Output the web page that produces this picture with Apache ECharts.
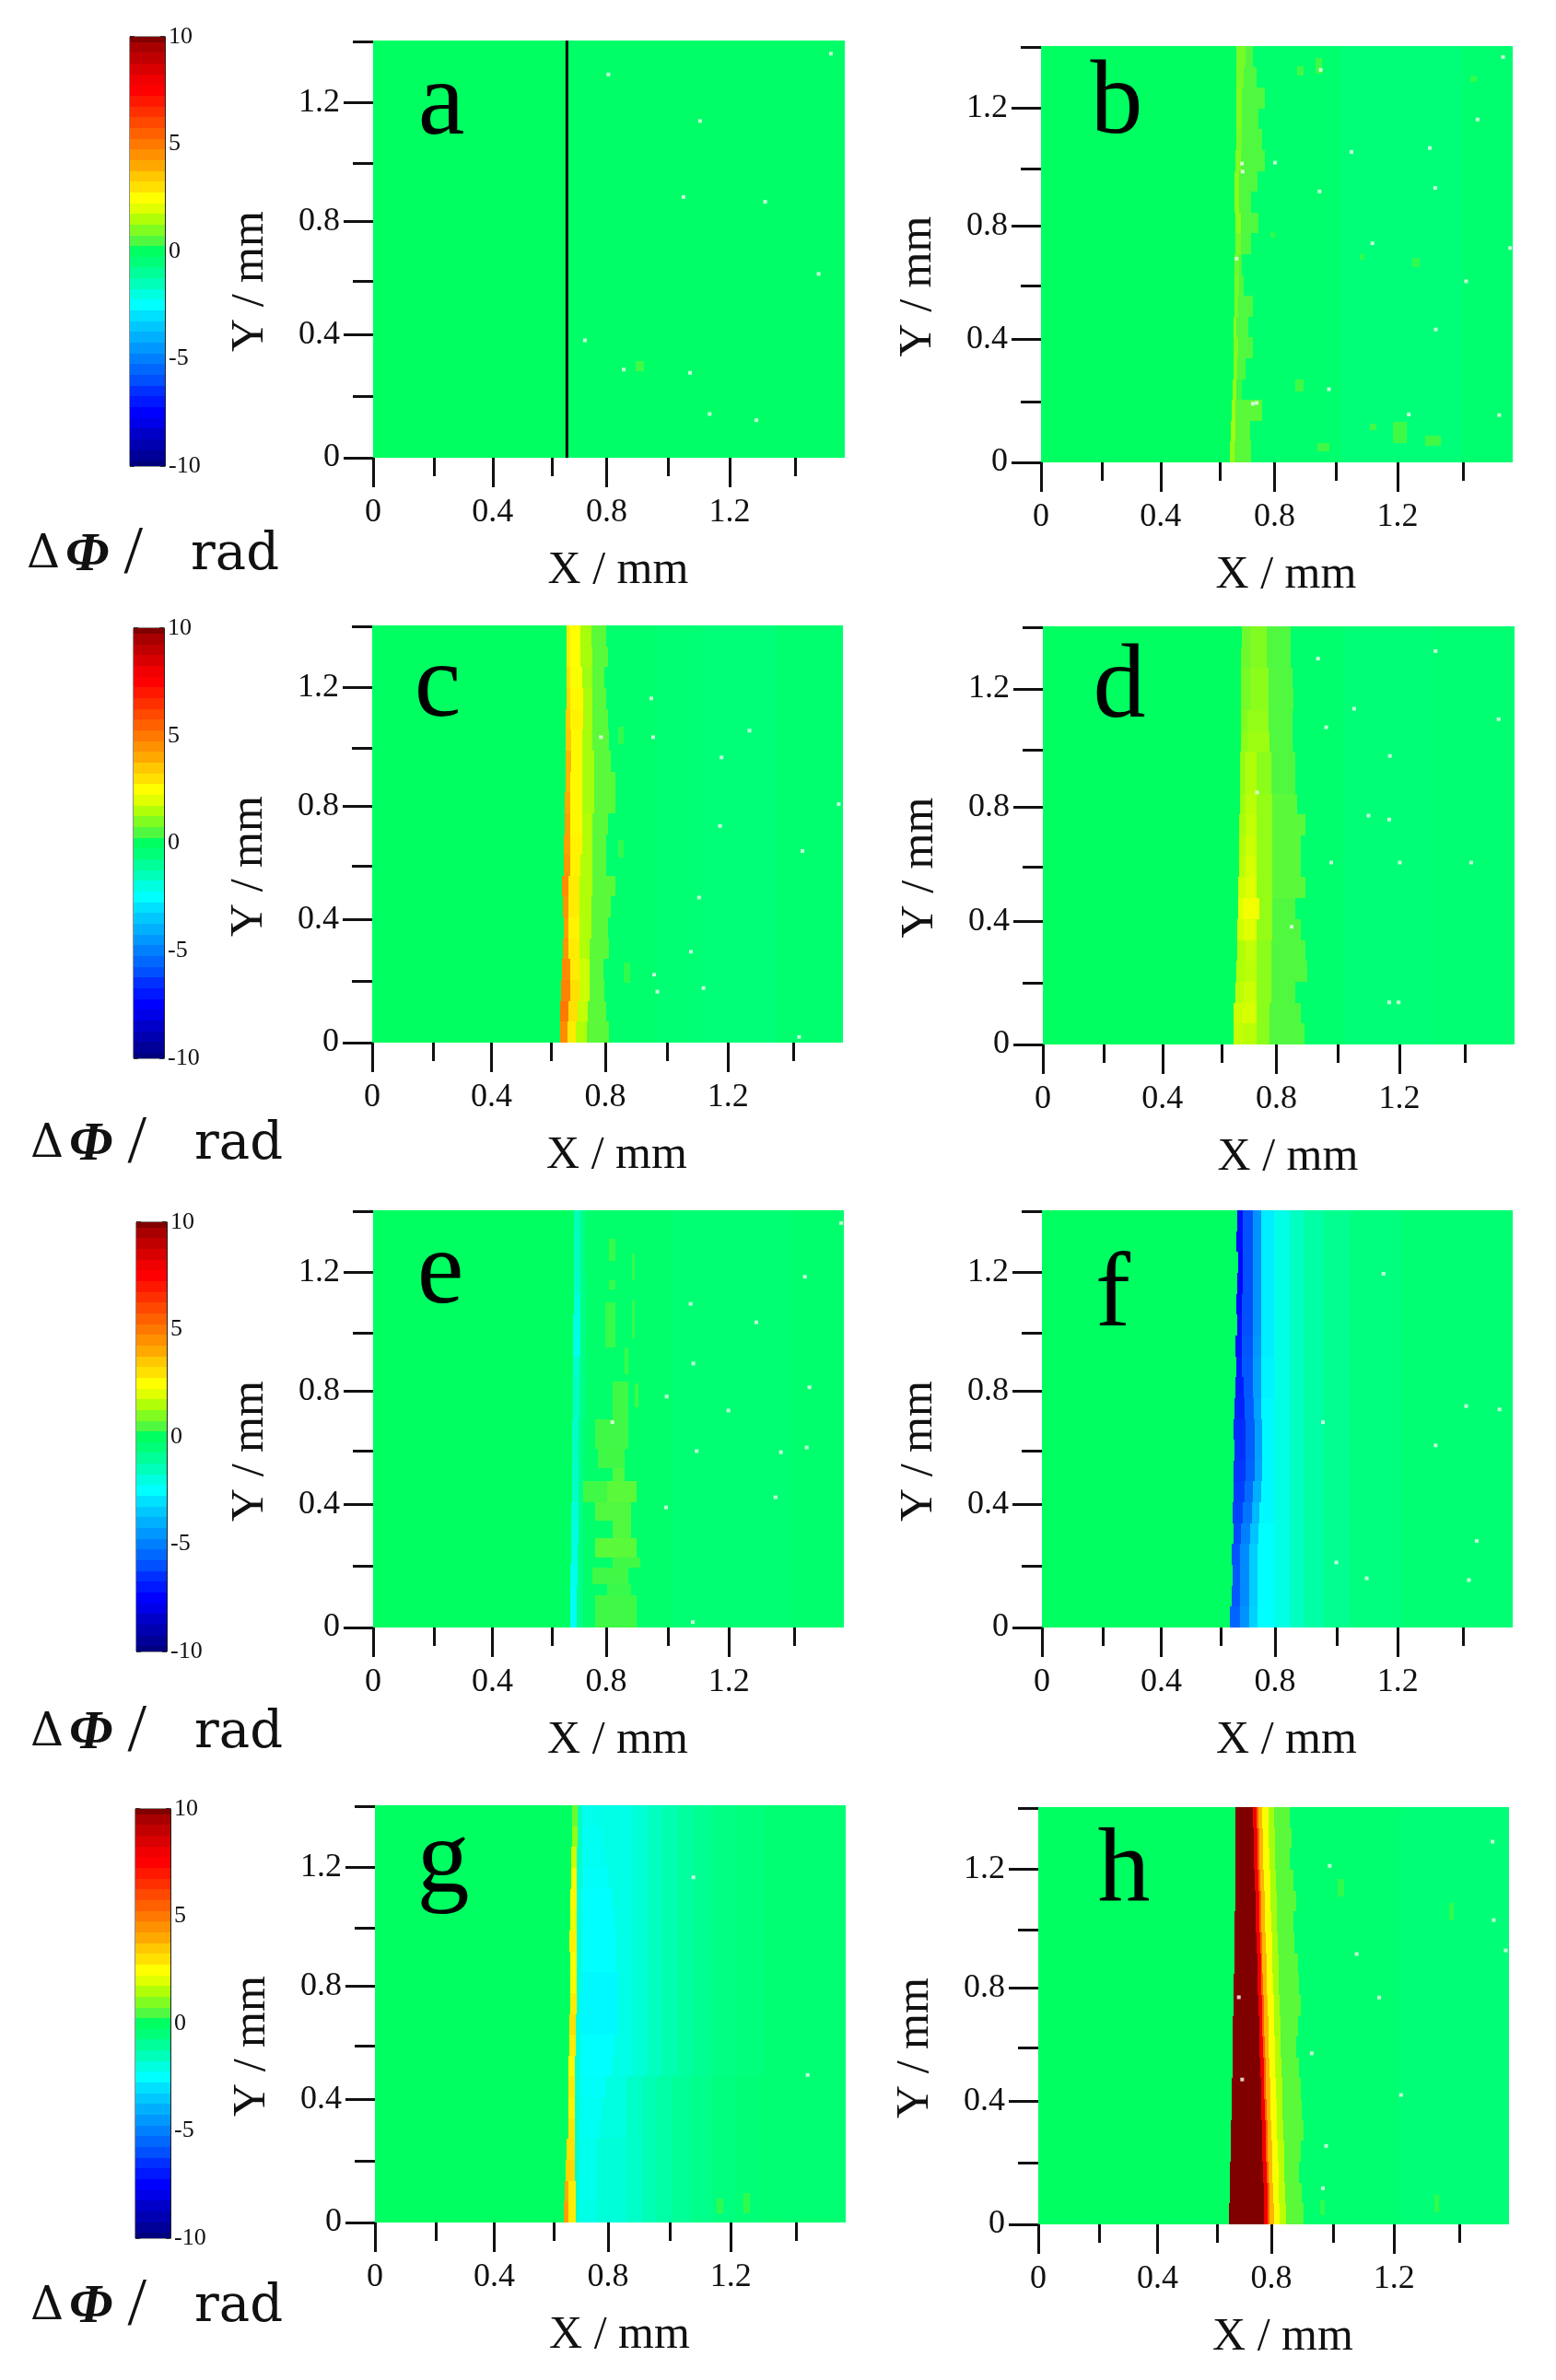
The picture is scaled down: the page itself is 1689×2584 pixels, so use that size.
<!DOCTYPE html>
<html>
<head>
<meta charset="utf-8">
<style>
  html, body { margin: 0; background: #fff; }
  #chart { width: 1689px; height: 2584px; }
</style>
<script src="https://cdn.jsdelivr.net/npm/echarts@6/dist/echarts.min.js"></script>
</head>
<body>
<div id="chart"></div>
<script>
  // axis ticks, the hand-labelled axes of the figure are slightly uneven
  const X_MAX = 1.57
  const Y_MAX = 1.4
  const tickLabels = ['0', '0.4', '0.8', '1.2']
  const xMajorTicks = [0, 0.398, 0.777, 1.187]
  const xMinorTicks = [0.2025, 0.596, 0.983, 1.405]
  const yMajorTicks = [0, 0.413, 0.794, 1.191]
  const yMinorTicks = [0.205, 0.593, 0.987, 1.395]
  const barTicks = [-10, -5, 0, 5, 10]

  // colour scale, -10 to 10 rad, one stop per 0.5
  const jetStops = [
    '#00007f', '#000098', '#0000b0', '#0000c8', '#0000e8', '#0000ff', '#0018ff', '#0030ff', '#0050ff', '#0068ff',
    '#0080ff', '#0098ff', '#00b0ff', '#00c8ff', '#00e0ff', '#00ffff', '#00ffe0', '#00ffb8', '#00ff98', '#00ff78',
    '#00ff60',
    '#50f840', '#80fc20', '#b0ff08', '#e0ff00', '#ffff00', '#ffe000', '#ffc800', '#ffa800', '#ff9000', '#ff7800',
    '#ff6000', '#ff4800', '#ff3000', '#ff1800', '#ff0000', '#f00000', '#d80000', '#c00000', '#a80000', '#800000',
  ]
  const barLevels = [
    -10, -9.5, -9, -8.5, -8, -7.5, -7, -6.5, -6, -5.5, -5, -4.5, -4, -3.5, -3, -2.5, -2, -1.5, -1, -0.5,
    0, 0.5, 1, 1.5, 2, 2.5, 3, 3.5, 4, 4.5, 5, 5.5, 6, 6.5, 7, 7.5, 8, 8.5, 9, 9.5, 10,
  ]

  // each row runs top to bottom of the map: x where a run starts, then its value (rad)
  const panelARows = [[0.645, -0.15]]
  const panelAPatches = [[0.875, 0.9, 0.29, 0.325, 0.4]]
  const panelASpecks = [[0.783, 1.286], [1.088, 1.13], [1.524, 1.356], [1.033, 0.875], [1.305, 0.859], [1.483, 0.617], [0.705, 0.394], [0.834, 0.296], [1.055, 0.285], [1.12, 0.147], [1.276, 0.126]]

  const panelBTail = [1.0, -0.5, 1.4, -0.3]
  const panelBRows = [
    [0.65, 0.9, 0.68, 0.5, 0.705, -0.25],
    [0.65, 0.9, 0.675, 0.5, 0.718, -0.25],
    [0.65, 1.0, 0.668, 0.5, 0.745, -0.25],
    [0.65, 1.0, 0.668, 0.5, 0.725, -0.25],
    [0.65, 0.9, 0.67, 0.5, 0.735, -0.25],
    [0.648, 1.0, 0.665, 0.5, 0.745, -0.25],
    [0.645, 1.1, 0.66, 0.5, 0.72, -0.25],
    [0.645, 1.1, 0.66, 0.5, 0.7, -0.25],
    [0.648, 1.1, 0.665, 0.5, 0.725, -0.25],
    [0.648, 0.9, 0.665, 0.5, 0.7, -0.25],
    [0.645, 0.8, 0.66, 0.5, 0.67, -0.25],
    [0.645, 0.9, 0.66, 0.5, 0.675, -0.25],
    [0.643, 0.9, 0.655, 0.5, 0.705, -0.25],
    [0.64, 1.1, 0.65, 0.5, 0.69, -0.25],
    [0.64, 1.0, 0.655, 0.5, 0.705, -0.25],
    [0.64, 1.0, 0.653, 0.5, 0.68, -0.25],
    [0.638, 1.2, 0.65, 0.4, 0.67, -0.25],
    [0.635, 1.3, 0.648, 0.6, 0.735, -0.25],
    [0.632, 1.3, 0.648, 0.6, 0.695, -0.25],
    [0.63, 1.2, 0.645, 0.6, 0.7, -0.25],
  ].map((r) => r.concat(panelBTail))
  // small patches: x from, x to, y from, y to, value
  const panelBPatches = [
    [0.853, 0.873, 1.3, 1.333, 0.4], [0.914, 0.934, 1.307, 1.36, 0.4], [0.846, 0.873, 0.24, 0.279, 0.4],
    [1.17, 1.217, 0.064, 0.135, 0.4], [1.278, 1.332, 0.057, 0.09, 0.4], [0.92, 0.961, 0.038, 0.064, 0.4],
    [1.096, 1.116, 0.109, 0.129, 0.4], [1.237, 1.26, 0.656, 0.689, 0.3], [1.062, 1.076, 0.68, 0.7, 0.3],
    [1.43, 1.45, 1.28, 1.3, 0.3], [0.765, 0.78, 0.755, 0.775, 0.3],
  ]
  const panelBSpecks = [[0.931, 1.32], [1.538, 1.363], [1.453, 1.153], [1.294, 1.057], [1.033, 1.044], [0.779, 1.008], [0.669, 1.005], [0.671, 0.978], [0.927, 0.911], [1.312, 0.923], [1.103, 0.737], [1.561, 0.721], [0.651, 0.685], [1.415, 0.609], [1.314, 0.447], [0.958, 0.246], [0.705, 0.197], [0.718, 0.2], [1.224, 0.161], [1.525, 0.159]]

  const panelCTail = [0.95, -0.4, 1.1, -0.5, 1.35, -0.3]
  const panelCRows = [
    [0.647, 2.8, 0.66, 2.5, 0.695, 1.4, 0.73, 0.6, 0.78, -0.25],
    [0.647, 2.8, 0.66, 2.5, 0.695, 1.4, 0.735, 0.6, 0.785, -0.25],
    [0.648, 3.0, 0.66, 2.4, 0.7, 1.3, 0.735, 0.6, 0.775, -0.25],
    [0.648, 3.2, 0.662, 2.6, 0.705, 1.4, 0.735, 0.6, 0.78, -0.25],
    [0.646, 3.4, 0.662, 2.7, 0.705, 1.4, 0.735, 0.6, 0.785, -0.25],
    [0.646, 3.5, 0.664, 2.6, 0.7, 1.4, 0.735, 0.6, 0.79, -0.25],
    [0.644, 3.8, 0.664, 2.6, 0.7, 1.4, 0.74, 0.6, 0.795, -0.25],
    [0.644, 3.8, 0.662, 2.6, 0.7, 1.4, 0.74, 0.6, 0.81, -0.25],
    [0.642, 4.0, 0.662, 2.6, 0.7, 1.4, 0.74, 0.6, 0.81, -0.25],
    [0.642, 4.2, 0.66, 2.6, 0.7, 1.5, 0.735, 0.6, 0.785, -0.25],
    [0.64, 4.2, 0.66, 2.7, 0.7, 1.5, 0.735, 0.6, 0.78, -0.25],
    [0.638, 4.4, 0.66, 2.7, 0.695, 1.5, 0.735, 0.6, 0.78, -0.25],
    [0.634, 4.6, 0.655, 2.8, 0.69, 1.5, 0.735, 0.6, 0.81, -0.25],
    [0.636, 4.4, 0.655, 2.8, 0.69, 1.5, 0.73, 0.6, 0.795, -0.25],
    [0.638, 4.2, 0.655, 2.7, 0.69, 1.5, 0.73, 0.6, 0.785, -0.25],
    [0.636, 4.4, 0.655, 2.8, 0.69, 1.5, 0.725, 0.6, 0.79, -0.25],
    [0.634, 4.6, 0.66, 2.8, 0.69, 1.8, 0.725, 0.6, 0.77, -0.25],
    [0.63, 4.8, 0.66, 3.0, 0.69, 1.8, 0.725, 0.6, 0.775, -0.25],
    [0.628, 5.0, 0.655, 3.0, 0.685, 1.7, 0.72, 0.6, 0.78, -0.25],
    [0.626, 4.6, 0.65, 2.8, 0.68, 1.5, 0.715, 0.6, 0.79, -0.25],
  ].map((r) => r.concat(panelCTail))
  const panelCPatches = [[0.82, 0.84, 1.0, 1.06, 0.3], [0.82, 0.84, 0.62, 0.68, 0.3], [0.84, 0.86, 0.2, 0.27, 0.3]]
  const panelCSpecks = [[0.931, 1.155], [1.258, 1.047], [0.937, 1.025], [0.763, 1.025], [1.165, 0.957], [1.556, 0.8], [1.16, 0.727], [1.435, 0.643], [1.09, 0.487], [1.063, 0.305], [0.94, 0.228], [0.951, 0.171], [1.105, 0.183], [1.424, 0.019]]

  const panelDTail = [1.0, -0.45, 1.3, -0.35]
  const panelDRows = [
    [0.662, 0.8, 0.69, 1.0, 0.745, 0.5, 0.825, -0.25],
    [0.66, 0.8, 0.69, 1.0, 0.745, 0.5, 0.825, -0.25],
    [0.66, 0.9, 0.69, 1.1, 0.75, 0.5, 0.83, -0.25],
    [0.66, 0.9, 0.69, 1.1, 0.75, 0.5, 0.835, -0.25],
    [0.658, 1.0, 0.68, 1.2, 0.75, 0.5, 0.83, -0.25],
    [0.658, 1.1, 0.68, 1.3, 0.755, 0.5, 0.83, -0.25],
    [0.656, 1.2, 0.675, 1.5, 0.71, 1.1, 0.76, 0.5, 0.84, -0.25],
    [0.656, 1.2, 0.675, 1.5, 0.71, 1.1, 0.76, 0.5, 0.84, -0.25],
    [0.655, 1.3, 0.675, 1.6, 0.71, 1.2, 0.765, 0.6, 0.845, -0.25],
    [0.653, 1.4, 0.675, 1.7, 0.71, 1.2, 0.765, 0.6, 0.875, -0.25],
    [0.653, 1.5, 0.675, 1.8, 0.71, 1.2, 0.765, 0.6, 0.86, -0.25],
    [0.652, 1.6, 0.675, 1.9, 0.71, 1.2, 0.765, 0.6, 0.86, -0.25],
    [0.65, 1.8, 0.675, 2.0, 0.71, 1.2, 0.765, 0.6, 0.875, -0.25],
    [0.65, 2.0, 0.665, 2.3, 0.72, 1.2, 0.765, 0.5, 0.84, -0.25],
    [0.648, 1.8, 0.67, 2.0, 0.71, 1.2, 0.765, 0.5, 0.86, -0.25],
    [0.646, 1.5, 0.675, 1.7, 0.71, 1.1, 0.76, 0.5, 0.875, -0.25],
    [0.644, 1.5, 0.675, 1.6, 0.71, 1.1, 0.76, 0.5, 0.88, -0.25],
    [0.64, 1.6, 0.67, 1.8, 0.71, 1.1, 0.76, 0.5, 0.84, -0.25],
    [0.636, 1.8, 0.665, 1.9, 0.71, 1.1, 0.755, 0.5, 0.86, -0.25],
    [0.634, 1.7, 0.665, 1.6, 0.71, 1.1, 0.755, 0.5, 0.87, -0.25],
  ].map((r) => r.concat(panelDTail))
  const panelDPatches = []
  const panelDSpecks = [[0.916, 1.292], [1.307, 1.317], [1.036, 1.124], [0.943, 1.062], [1.517, 1.089], [1.155, 0.966], [0.713, 0.844], [1.084, 0.766], [1.153, 0.753], [0.96, 0.609], [1.188, 0.609], [1.426, 0.609], [0.828, 0.394], [1.153, 0.141], [1.184, 0.141]]

  const panelETail = [1.0, -0.4, 1.4, -0.25]
  const panelERows = [
    [0.67, -1.5, 0.69, -0.7, 0.71, -0.2],
    [0.67, -1.6, 0.69, -0.7, 0.71, -0.2],
    [0.67, -1.6, 0.69, -0.7, 0.71, -0.2],
    [0.669, -1.7, 0.69, -0.7, 0.71, -0.2],
    [0.669, -1.9, 0.69, -0.7, 0.71, -0.2],
    [0.668, -2.0, 0.69, -0.7, 0.71, -0.2],
    [0.668, -2.1, 0.69, -0.7, 0.71, -0.2],
    [0.667, -1.8, 0.688, -0.7, 0.71, -0.2],
    [0.667, -1.7, 0.688, -0.7, 0.71, -0.2],
    [0.666, -1.7, 0.688, -0.7, 0.71, -0.2],
    [0.665, -1.7, 0.686, -0.7, 0.705, -0.2],
    [0.664, -1.6, 0.686, -0.7, 0.705, -0.2],
    [0.664, -1.7, 0.686, -0.7, 0.705, -0.2],
    [0.663, -1.7, 0.684, -0.7, 0.7, -0.2],
    [0.662, -1.9, 0.684, -0.7, 0.7, -0.2],
    [0.661, -2.0, 0.684, -0.7, 0.7, -0.2],
    [0.66, -2.1, 0.682, -0.7, 0.7, -0.2],
    [0.659, -2.2, 0.682, -0.8, 0.7, -0.2],
    [0.658, -2.4, 0.68, -0.8, 0.7, -0.2],
    [0.657, -2.4, 0.68, -0.8, 0.7, -0.2],
  ].map((r) => r.concat(panelETail))
  const panelEPatches = [
    [0.785, 0.807, 1.229, 1.304, 0.35], [0.862, 0.873, 1.166, 1.254, 0.35], [0.785, 0.807, 1.134, 1.166, 0.35],
    [0.774, 0.807, 0.939, 1.09, 0.35], [0.862, 0.873, 0.97, 1.096, 0.35], [0.84, 0.851, 0.85, 0.939, 0.35],
    [0.8, 0.851, 0.7, 0.825, 0.4], [0.873, 0.884, 0.74, 0.82, 0.4], [0.74, 0.851, 0.6, 0.7, 0.4],
    [0.75, 0.84, 0.536, 0.6, 0.4], [0.8, 0.84, 0.47, 0.536, 0.5], [0.7, 0.78, 0.42, 0.49, 0.4],
    [0.78, 0.88, 0.42, 0.49, 0.6], [0.74, 0.86, 0.36, 0.42, 0.5], [0.8, 0.86, 0.3, 0.36, 0.5],
    [0.74, 0.88, 0.235, 0.3, 0.6], [0.8, 0.89, 0.2, 0.235, 0.4], [0.73, 0.85, 0.145, 0.2, 0.4],
    [0.78, 0.86, 0.107, 0.145, 0.35], [0.74, 0.88, 0, 0.107, 0.4],
  ]
  const panelESpecks = [[1.561, 1.357], [1.44, 1.177], [1.059, 1.086], [1.278, 1.024], [1.068, 0.886], [0.979, 0.775], [1.455, 0.806], [1.185, 0.728], [0.798, 0.689], [1.446, 0.604], [1.079, 0.592], [1.36, 0.588], [1.342, 0.437], [0.977, 0.403], [1.066, 0.018]]

  const panelFTail = [0.775, -2.1, 0.825, -1.6, 0.875, -1.2, 0.94, -0.85, 1.03, -0.6, 1.2, -0.4]
  const panelFRows = [
    [0.652, -7.2, 0.67, -6.0, 0.705, -4.6, 0.73, -2.8],
    [0.648, -7.3, 0.67, -6.0, 0.705, -4.6, 0.73, -2.8],
    [0.654, -7.4, 0.67, -6.0, 0.705, -4.6, 0.73, -2.8],
    [0.65, -7.4, 0.67, -6.0, 0.705, -4.6, 0.73, -2.8],
    [0.647, -7.3, 0.668, -6.0, 0.705, -4.6, 0.73, -2.8],
    [0.65, -7.2, 0.668, -6.0, 0.705, -4.6, 0.73, -2.8],
    [0.646, -7.1, 0.668, -5.9, 0.705, -4.5, 0.73, -2.8],
    [0.648, -7.0, 0.668, -5.8, 0.705, -4.4, 0.73, -2.7],
    [0.644, -6.9, 0.672, -5.8, 0.705, -4.4, 0.73, -2.7],
    [0.642, -6.8, 0.675, -5.7, 0.708, -4.3, 0.732, -2.6],
    [0.64, -6.6, 0.678, -5.7, 0.71, -4.3, 0.734, -2.6],
    [0.642, -6.5, 0.678, -5.7, 0.71, -4.3, 0.734, -2.6],
    [0.638, -6.4, 0.678, -5.6, 0.71, -4.2, 0.734, -2.6],
    [0.64, -6.3, 0.675, -5.4, 0.705, -4.0, 0.73, -2.6],
    [0.636, -6.2, 0.67, -5.2, 0.7, -3.8, 0.725, -2.6],
    [0.638, -6.1, 0.665, -5.0, 0.695, -3.6, 0.722, -2.5],
    [0.634, -5.9, 0.66, -4.8, 0.69, -3.4, 0.72, -2.5],
    [0.636, -5.8, 0.66, -4.8, 0.69, -3.4, 0.72, -2.5],
    [0.632, -5.8, 0.66, -4.8, 0.69, -3.4, 0.72, -2.5],
    [0.628, -5.6, 0.66, -4.6, 0.69, -3.3, 0.72, -2.5],
  ].map((r) => r.concat(panelFTail))
  const panelFPatches = []
  const panelFSpecks = [[1.139, 1.187], [1.415, 0.743], [1.526, 0.732], [0.937, 0.689], [1.313, 0.611], [1.45, 0.29], [0.982, 0.218], [1.083, 0.165], [1.424, 0.159]]

  const panelGTail = [0.86, -1.85, 0.91, -1.6, 0.96, -1.35, 1.01, -1.1, 1.06, -0.9, 1.12, -0.7, 1.2, -0.55, 1.3, -0.4]
  const panelGTailLow = [0.84, -1.7, 0.89, -1.45, 0.94, -1.2, 0.99, -1.0, 1.05, -0.8, 1.12, -0.6, 1.2, -0.45, 1.3, -0.35]
  const panelGRows = [
    [0.656, 0.8, 0.675, -1.6, 0.69, -2.2, 0.75, -2.1].concat(panelGTail),
    [0.656, 1.2, 0.675, -1.6, 0.69, -2.3, 0.76, -2.1].concat(panelGTail),
    [0.654, 1.8, 0.674, -1.7, 0.69, -2.3, 0.77, -2.1].concat(panelGTail),
    [0.654, 2.4, 0.674, -1.8, 0.69, -2.4, 0.78, -2.1].concat(panelGTail),
    [0.652, 2.6, 0.672, -1.9, 0.688, -2.5, 0.79, -2.1].concat(panelGTail),
    [0.65, 2.2, 0.672, -1.9, 0.688, -2.5, 0.8, -2.1].concat(panelGTail),
    [0.648, 2.7, 0.672, -1.9, 0.688, -2.5, 0.805, -2.1].concat(panelGTail),
    [0.65, 2.5, 0.672, -1.9, 0.688, -2.5, 0.805, -2.1].concat(panelGTail),
    [0.652, 2.4, 0.672, -1.9, 0.688, -2.6, 0.81, -2.1].concat(panelGTail),
    [0.65, 2.8, 0.672, -1.9, 0.686, -2.6, 0.81, -2.1].concat(panelGTail),
    [0.648, 3.0, 0.67, -1.9, 0.686, -2.6, 0.81, -2.1].concat(panelGTail),
    [0.648, 2.8, 0.67, -1.9, 0.686, -2.5, 0.8, -2.1].concat(panelGTail),
    [0.646, 2.6, 0.668, -1.9, 0.684, -2.5, 0.79, -2.1].concat(panelGTail),
    [0.644, 2.8, 0.668, -1.9, 0.684, -2.4, 0.77, -2.0].concat(panelGTailLow),
    [0.646, 2.7, 0.668, -1.9, 0.684, -2.3, 0.76, -2.0].concat(panelGTailLow),
    [0.644, 2.9, 0.668, -1.8, 0.682, -2.3, 0.75, -2.0].concat(panelGTailLow),
    [0.64, 3.0, 0.668, -1.8, 0.682, -2.2, 0.74, -1.9].concat(panelGTailLow),
    [0.636, 3.2, 0.668, -1.7, 0.68, -2.2, 0.74, -1.9].concat(panelGTailLow),
    [0.632, 4.0, 0.646, 2.8, 0.67, -1.7, 0.68, -2.2, 0.74, -1.9].concat(panelGTailLow),
    [0.63, 4.2, 0.646, 2.8, 0.67, -1.7, 0.68, -2.1, 0.74, -1.9].concat(panelGTailLow),
  ]
  const panelGPatches = [[1.14, 1.16, 0.03, 0.08, 0.3], [1.23, 1.25, 0.03, 0.1, 0.3]]
  const panelGSpecks = [[1.062, 1.158], [1.443, 0.495]]

  const panelHTail = [1.2, -0.45]
  const panelHRows = [
    [0.658, 10, 0.716, 8, 0.728, 5.5, 0.734, 3.8, 0.747, 2.4, 0.767, 1.4, 0.787, 0.6, 0.84, -0.3],
    [0.658, 10, 0.718, 8, 0.73, 5.5, 0.736, 3.8, 0.749, 2.4, 0.769, 1.4, 0.789, 0.6, 0.845, -0.3],
    [0.656, 10, 0.72, 8, 0.732, 5.5, 0.738, 3.8, 0.751, 2.4, 0.771, 1.4, 0.791, 0.6, 0.84, -0.3],
    [0.656, 10, 0.722, 8, 0.734, 5.5, 0.74, 3.8, 0.753, 2.4, 0.773, 1.4, 0.793, 0.6, 0.85, -0.3],
    [0.657, 10, 0.724, 8, 0.736, 5.5, 0.742, 3.8, 0.755, 2.4, 0.775, 1.4, 0.795, 0.6, 0.86, -0.3],
    [0.655, 10, 0.726, 8, 0.738, 5.5, 0.744, 3.8, 0.757, 2.4, 0.777, 1.4, 0.797, 0.6, 0.85, -0.3],
    [0.653, 10, 0.728, 8, 0.74, 5.5, 0.746, 3.8, 0.759, 2.4, 0.779, 1.4, 0.799, 0.6, 0.855, -0.3],
    [0.654, 10, 0.73, 8, 0.742, 5.5, 0.748, 3.8, 0.761, 2.4, 0.781, 1.4, 0.801, 0.6, 0.865, -0.3],
    [0.651, 10, 0.732, 8, 0.744, 5.5, 0.75, 3.8, 0.763, 2.4, 0.783, 1.4, 0.803, 0.6, 0.87, -0.3],
    [0.65, 10, 0.734, 8, 0.746, 5.5, 0.752, 3.8, 0.765, 2.4, 0.785, 1.4, 0.805, 0.6, 0.875, -0.3],
    [0.648, 10, 0.736, 8, 0.748, 5.5, 0.754, 3.8, 0.767, 2.4, 0.787, 1.4, 0.807, 0.6, 0.865, -0.3],
    [0.649, 10, 0.738, 8, 0.75, 5.5, 0.756, 3.8, 0.769, 2.4, 0.789, 1.5, 0.809, 0.6, 0.86, -0.3],
    [0.647, 10, 0.74, 8, 0.752, 5.5, 0.758, 3.8, 0.771, 2.4, 0.791, 1.5, 0.811, 0.6, 0.87, -0.3],
    [0.645, 10, 0.742, 8, 0.754, 5.5, 0.76, 3.8, 0.773, 2.4, 0.793, 1.5, 0.813, 0.6, 0.875, -0.3],
    [0.645, 10, 0.744, 8, 0.756, 5.5, 0.762, 3.8, 0.775, 2.4, 0.795, 1.5, 0.815, 0.6, 0.88, -0.3],
    [0.643, 10, 0.746, 8, 0.758, 5.5, 0.764, 3.8, 0.777, 2.4, 0.797, 1.5, 0.817, 0.6, 0.885, -0.3],
    [0.641, 10, 0.748, 8, 0.76, 5.5, 0.766, 3.8, 0.779, 2.4, 0.799, 1.6, 0.819, 0.6, 0.875, -0.3],
    [0.64, 10, 0.75, 8, 0.762, 5.5, 0.768, 3.8, 0.781, 2.4, 0.801, 1.6, 0.821, 0.6, 0.87, -0.3],
    [0.638, 10, 0.752, 8, 0.764, 5.5, 0.77, 3.8, 0.783, 2.4, 0.803, 1.6, 0.823, 0.6, 0.88, -0.3],
    [0.636, 10, 0.754, 8, 0.766, 5.5, 0.772, 3.8, 0.785, 2.4, 0.805, 1.6, 0.825, 0.6, 0.885, -0.3],
  ].map((r) => r.concat(panelHTail))
  const panelHPatches = [[1.0, 1.02, 1.1, 1.16, 0.3], [1.37, 1.385, 1.02, 1.08, 0.3], [0.94, 0.955, 0.03, 0.08, 0.3], [1.32, 1.335, 0.04, 0.1, 0.3]]
  const panelHSpecks = [[1.515, 1.284], [0.972, 1.203], [1.519, 1.021], [1.559, 0.919], [1.062, 0.907], [0.669, 0.762], [1.137, 0.761], [0.912, 0.574], [0.68, 0.486], [1.21, 0.434], [0.96, 0.263], [0.949, 0.121]]

  // black cut line in panel a
  const panelACut = [[0.645, 0], [0.645, 1.4]]

  // page layout in px
  const serif = '"Liberation Serif", "Times New Roman", serif'
  const panels = [
    { letter: 'a', rows: panelARows, patches: panelAPatches, specks: panelASpecks, box: [405, 917, 44, 497], mark: [479, 115] },
    { letter: 'b', rows: panelBRows, patches: panelBPatches, specks: panelBSpecks, box: [1130, 1642, 50, 502], mark: [1212, 114] },
    { letter: 'c', rows: panelCRows, patches: panelCPatches, specks: panelCSpecks, box: [404, 915, 679, 1132], mark: [475, 747] },
    { letter: 'd', rows: panelDRows, patches: panelDPatches, specks: panelDSpecks, box: [1132, 1644, 680, 1134], mark: [1215, 748] },
    { letter: 'e', rows: panelERows, patches: panelEPatches, specks: panelESpecks, box: [405, 916, 1314, 1767], mark: [478, 1384] },
    { letter: 'f', rows: panelFRows, patches: panelFPatches, specks: panelFSpecks, box: [1131, 1642, 1314, 1767], mark: [1208, 1409] },
    { letter: 'g', rows: panelGRows, patches: panelGPatches, specks: panelGSpecks, box: [407, 918, 1960, 2413], mark: [481, 2024] },
    { letter: 'h', rows: panelHRows, patches: panelHPatches, specks: panelHSpecks, box: [1127, 1638, 1962, 2415], mark: [1220, 2033] },
  ]
  const colorBars = [
    { box: [141, 179, 40, 506], unit: [29, 603] },
    { box: [145, 178, 682, 1149], unit: [33, 1243] },
    { box: [148, 181, 1327, 1793], unit: [33, 1882] },
    { box: [147, 185, 1964, 2430], unit: [33, 2505] },
  ]

  // turn the rows into rects [x0, x1, y0, y1, value]
  const buildCells = (rows, patches) => {
    const h = Y_MAX / rows.length
    const cells = []
    rows.forEach((row, r) => {
      const yTop = Y_MAX - r * h
      const yBot = yTop - h
      cells.push([0, row[0], yBot, yTop, 0])
      for (let i = 0; i < row.length; i += 2) {
        const next = i + 2 < row.length ? row[i + 2] : X_MAX
        cells.push([row[i], next, yBot, yTop, row[i + 1]])
      }
    })
    return cells.concat(patches)
  }

  const renderCell = (params, api) => {
    const a = api.coord([api.value(0), api.value(3)])
    const b = api.coord([api.value(1), api.value(2)])
    const x = Math.round(a[0])
    const y = Math.round(a[1])
    return {
      type: 'rect',
      shape: { x: x, y: y, width: Math.round(b[0]) - x, height: Math.round(b[1]) - y },
      style: { fill: api.visual('color') },
    }
  }

  const tickStyle = { color: '#111', width: 3 }
  const grid = []
  const xAxis = []
  const yAxis = []
  const series = []
  const graphic = []

  panels.forEach((p, i) => {
    const [l, r, t, b] = p.box
    grid.push({ left: l, top: t, width: r - l, height: b - t })
    const major = xAxis.length
    xAxis.push({
      type: 'value', gridIndex: i, min: 0, max: X_MAX, position: 'bottom',
      name: 'X / mm', nameLocation: 'middle', nameGap: 98,
      nameTextStyle: { fontFamily: serif, fontSize: 50, color: '#111', padding: [0, 0, 0, 20] },
      axisLine: { show: false },
      axisTick: { show: true, length: 32, lineStyle: tickStyle, customValues: xMajorTicks },
      axisLabel: {
        fontFamily: serif, fontSize: 36, color: '#111', margin: 42, customValues: xMajorTicks,
        formatter: (v) => tickLabels[xMajorTicks.indexOf(v)],
      },
      splitLine: { show: false },
    })
    xAxis.push({
      type: 'value', gridIndex: i, min: 0, max: X_MAX, position: 'bottom',
      axisLine: { show: false },
      axisTick: { show: true, length: 20, lineStyle: tickStyle, customValues: xMinorTicks },
      axisLabel: { show: false },
      splitLine: { show: false },
    })
    yAxis.push({
      type: 'value', gridIndex: i, min: 0, max: Y_MAX, position: 'left',
      name: 'Y / mm', nameLocation: 'middle', nameGap: 108, nameRotate: 90,
      nameTextStyle: { fontFamily: serif, fontSize: 50, color: '#111', padding: [0, 70, 0, 0] },
      axisLine: { show: false },
      axisTick: { show: true, length: 32, lineStyle: tickStyle, customValues: yMajorTicks },
      axisLabel: {
        fontFamily: serif, fontSize: 36, color: '#111', margin: 36, customValues: yMajorTicks,
        formatter: (v) => tickLabels[yMajorTicks.indexOf(v)],
      },
      splitLine: { show: false },
    })
    yAxis.push({
      type: 'value', gridIndex: i, min: 0, max: Y_MAX, position: 'left',
      axisLine: { show: false },
      axisTick: { show: true, length: 22, lineStyle: tickStyle, customValues: yMinorTicks },
      axisLabel: { show: false },
      splitLine: { show: false },
    })
    series.push({
      type: 'custom', name: 'panel ' + p.letter, coordinateSystem: 'cartesian2d',
      xAxisIndex: major, yAxisIndex: major, clip: true, silent: true,
      renderItem: renderCell, encode: { x: [0, 1], y: [2, 3] },
      data: buildCells(p.rows, p.patches),
    })
    graphic.push({
      type: 'text', z: 100, x: p.mark[0], y: p.mark[1],
      style: { text: p.letter, font: '114px ' + serif, fill: '#000', align: 'center', verticalAlign: 'middle' },
    })
  })

  // colour bars sit in their own grids with a -10..10 axis
  colorBars.forEach((c, i) => {
    const [l, r, t, b] = c.box
    const g = grid.length
    grid.push({ left: l, top: t, width: r - l, height: b - t, show: true, borderColor: '#222', borderWidth: 1, backgroundColor: 'transparent' })
    const xi = xAxis.length
    const yi = yAxis.length
    xAxis.push({ type: 'value', gridIndex: g, min: 0, max: 1, show: false })
    yAxis.push({
      type: 'value', gridIndex: g, min: -10, max: 10, position: 'right',
      axisLine: { show: true, onZero: false, lineStyle: { color: '#222', width: 1 } },
      axisTick: { show: true, inside: true, length: 5, lineStyle: { color: '#111', width: 1.5 }, customValues: barTicks },
      axisLabel: { fontFamily: serif, fontSize: 26, color: '#111', margin: 4, padding: [10, 0, 0, 0], customValues: barTicks },
      splitLine: { show: false },
    })
    yAxis.push({
      type: 'value', gridIndex: g, min: -10, max: 10, position: 'left',
      axisLine: { show: true, onZero: false, lineStyle: { color: '#222', width: 1 } },
      axisTick: { show: true, inside: true, length: 5, lineStyle: { color: '#111', width: 1.5 }, customValues: barTicks },
      axisLabel: { show: false },
      splitLine: { show: false },
    })
    series.push({
      type: 'custom', name: 'scale ' + (i + 1), coordinateSystem: 'cartesian2d',
      xAxisIndex: xi, yAxisIndex: yi, clip: true, silent: true,
      renderItem: renderCell, encode: { x: [0, 1], y: [2, 3] },
      data: barLevels.map((v) => [0, 1, v - 0.25, v + 0.25, v]),
    })
    graphic.push({
      type: 'text', z: 100, x: c.unit[0], y: c.unit[1],
      style: {
        text: '{d|Δ}{p|Φ}{s|/}{r|rad}',
        verticalAlign: 'middle',
        rich: {
          d: { font: '50px "DejaVu Serif"', fill: '#111' },
          p: { font: 'italic bold 60px ' + serif, fill: '#111', padding: [0, 16, 0, 6] },
          s: { font: '74px ' + serif, fill: '#111', padding: [0, 52, 0, 0] },
          r: { font: '56px "DejaVu Serif"', fill: '#111' },
        },
      },
    })
  })

  const mapSeriesIndex = series.map((s, i) => i)

  panels.forEach((p, i) => {
    series.push({
      type: 'scatter', name: 'specks ' + p.letter, xAxisIndex: i * 2, yAxisIndex: i * 2,
      symbol: 'rect', symbolSize: 4, silent: true,
      itemStyle: { color: '#f4fff4' },
      data: p.specks,
    })
  })
  series.push({
    type: 'line', name: 'cut', xAxisIndex: 0, yAxisIndex: 0, silent: true,
    showSymbol: false, lineStyle: { color: '#000', width: 3 },
    data: panelACut,
  })

  const options = {
    backgroundColor: '#fff',
    animation: false,
    grid,
    xAxis,
    yAxis,
    visualMap: {
      type: 'continuous', show: false, min: -10, max: 10, dimension: 4,
      seriesIndex: mapSeriesIndex,
      inRange: { color: jetStops },
    },
    series,
    graphic,
  }

  const chart = echarts.init(document.getElementById('chart'))
  chart.setOption(options)
</script>
</body>
</html>
